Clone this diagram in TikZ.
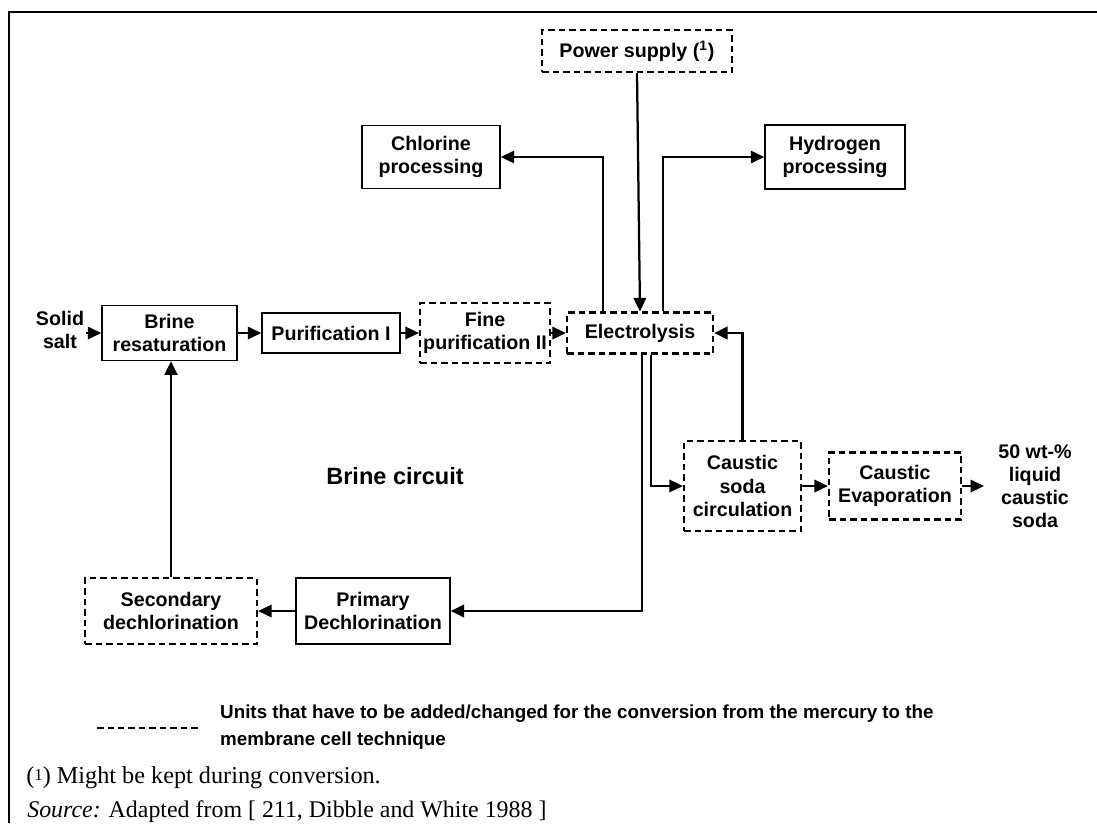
\documentclass[tikz,border=0pt]{standalone}
\usepackage{fontspec}
\setmainfont{Liberation Serif}
\setsansfont{Liberation Sans}
\usetikzlibrary{arrows.meta}
\newcommand{\unitfont}{\sffamily\bfseries\fontsize{11.2}{13.2}\selectfont}
\newcommand{\fnmark}{\raisebox{0.3ex}{\fontsize{9.5}{10}\selectfont 1}}
\tikzset{
  unit/.style={draw, line width=0.03cm, inner sep=0pt, align=center, font=\unitfont},
  newunit/.style={unit, line width=0.045cm, dash pattern=on 0.13cm off 0.08cm},
  flow/.style={line width=0.035cm, -{Triangle[length=0.27cm,width=0.25cm]}},
  mainflow/.style={flow, line width=0.055cm},
}
\begin{document}
\begin{tikzpicture}[x=0.02cm, y=-0.02cm]
  \useasboundingbox (0,0) rectangle (1097,823);
  % frame
  \draw[line width=0.04cm] (9,823) -- (9,12) -- (1097,12);
  % units (px centres, size in cm)
  \node[newunit, minimum width=3.8cm, minimum height=0.84cm] (power) at (637,51) {Power supply (\textsuperscript{1})};
  \node[unit, minimum width=2.76cm, minimum height=1.26cm] (chlor) at (431,157) {Chlorine\\processing};
  \node[unit, minimum width=2.8cm, minimum height=1.28cm] (hydro) at (835,157) {Hydrogen\\processing};
  \node[font=\unitfont, align=center, inner sep=1pt] (salt) at (60,330) {Solid\\salt};
  \node[unit, minimum width=2.7cm, minimum height=1.1cm] (brine) at (169.5,333) {Brine\\resaturation};
  \node[unit, minimum width=2.76cm, minimum height=0.8cm] (purif) at (331,333) {Purification I};
  \node[newunit, minimum width=2.6cm, minimum height=1.2cm] (fine) at (485,333) {Fine\\purification II};
  \node[newunit, minimum width=2.92cm, minimum height=0.82cm] (elec) at (640,333) {Electrolysis};
  \node[newunit, minimum width=2.34cm, minimum height=1.8cm] (circ) at (742.5,486) {Caustic\\soda\\circulation};
  \node[newunit, minimum width=2.64cm, minimum height=1.34cm] (evap) at (895,486) {Caustic\\Evaporation};
  \node[font=\unitfont, align=center, inner xsep=0.28cm] (soda) at (1035,486) {50 wt-\%\\liquid\\caustic\\soda};
  \node[newunit, minimum width=3.44cm, minimum height=1.32cm] (second) at (171,611) {Secondary\\dechlorination};
  \node[unit, minimum width=3.08cm, minimum height=1.32cm] (prim) at (373,611) {Primary\\Dechlorination};
  \node[font=\sffamily\bfseries\fontsize{13.4}{16}\selectfont] (circuit) at (395,476) {Brine circuit};
  % brine line
  \draw[flow] (salt.east |- brine.west) -- (brine.west);
  \draw[flow] (brine.east) -- (purif.west);
  \draw[flow] (purif.east) -- (fine.west);
  \draw[flow] (fine.east) -- (elec.west);
  % gases and power
  \draw[flow, line width=0.045cm] (power.south) -- (elec.north);
  \draw[flow, line width=0.03cm] (603,0 |- elec.north) |- (chlor.east);
  \draw[flow, line width=0.03cm] (663,0 |- elec.north) |- (hydro.west);
  % caustic soda loop
  \draw[flow, line width=0.03cm] (651,0 |- elec.south) |- (circ.west);
  \draw[mainflow] (circ.north) |- (elec.east);
  \draw[flow] (circ.east) -- (evap.west);
  \draw[flow] (evap.east) -- (soda.west);
  % depleted brine back
  \draw[mainflow] (642,0 |- elec.south) |- (prim.east);
  \draw[flow] (prim.west) -- (second.east);
  \draw[mainflow] (second.north) -- (second.north |- brine.south);
  % legend
  \draw[line width=0.045cm, dash pattern=on 0.13cm off 0.08cm] (97,728) -- (199,728);
  \node[font=\sffamily\bfseries\fontsize{10.7}{15.2}\selectfont, align=left, anchor=west] (legend) at (214,727)
    {Units that have to be added/changed for the conversion from the mercury to the\\membrane cell technique};
  % notes
  \node[font=\fontsize{13.8}{16}\selectfont, anchor=west, inner sep=0pt] (note) at (26,778) {(\fnmark) Might be kept during conversion.};
  \node[font=\fontsize{13.6}{16}\selectfont, anchor=west, inner sep=0pt] (source) at (27,812) {\textit{Source:} Adapted from [ 211, Dibble and White 1988 ]};
\end{tikzpicture}
\end{document}
